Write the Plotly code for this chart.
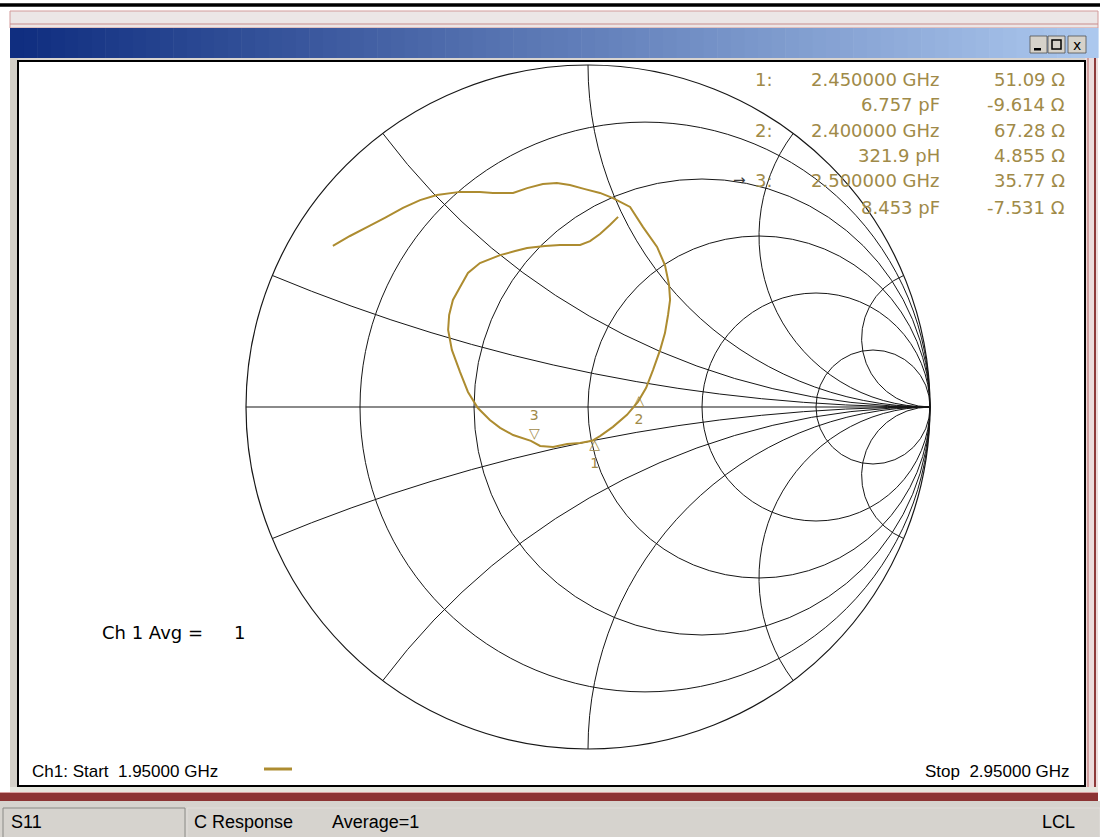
import numpy as np
import plotly.graph_objects as go

W, H = 1100, 837

# ---------------- data ----------------
# S11 reflection coefficient, sweep 1.95 GHz -> 2.95 GHz
s11_re = [-0.746, -0.696, -0.646, -0.594, -0.541, -0.491, -0.442, -0.374, -0.316, -0.278,
          -0.219, -0.178, -0.132, -0.091, -0.053, -0.009, 0.035, 0.073, 0.123, 0.161,
          0.202, 0.225, 0.237, 0.240, 0.234, 0.225, 0.211, 0.190, 0.170, 0.146,
          0.114, 0.073, 0.035, 0.012, -0.023, -0.061, -0.102, -0.140, -0.167, -0.219,
          -0.257, -0.287, -0.322, -0.351, -0.374, -0.398, -0.409, -0.406, -0.395, -0.374,
          -0.351, -0.316, -0.257, -0.213, -0.178, -0.126, -0.082, -0.023, 0.006, 0.035,
          0.064, 0.088]
s11_im = [0.471, 0.500, 0.526, 0.553, 0.582, 0.605, 0.620, 0.629, 0.629, 0.626,
          0.626, 0.640, 0.652, 0.655, 0.649, 0.637, 0.626, 0.611, 0.585, 0.526,
          0.468, 0.415, 0.357, 0.313, 0.269, 0.216, 0.167, 0.108, 0.056, 0.015,
          -0.023, -0.058, -0.085, -0.099, -0.105, -0.108, -0.117, -0.114, -0.099, -0.082,
          -0.061, -0.038, -0.003, 0.044, 0.102, 0.167, 0.225, 0.269, 0.313, 0.351,
          0.392, 0.421, 0.444, 0.456, 0.465, 0.471, 0.474, 0.474, 0.485, 0.506,
          0.532, 0.556]

marker_ids = ["1", "2", "3"]
marker_freq = ["2.450000 GHz", "2.400000 GHz", "2.500000 GHz"]
marker_elem = ["6.757 pF", "321.9 pH", "8.453 pF"]
marker_R = [51.09, 67.28, 35.77]
marker_X = [-9.614, 4.855, -7.531]
Z0 = 50.0

r_grid = [0.2, 0.5, 1, 2, 5]
x_grid = [-5, -2, -1, -0.5, -0.2, 0.2, 0.5, 1, 2, 5]

avg_text = "Ch 1 Avg ="
avg_value = "1"
start_text = "Ch1: Start  1.95000 GHz"
stop_text = "Stop  2.95000 GHz"
status_items = ["S11", "C Response", "Average=1", "LCL"]

# ---------------- styles ----------------
TRACE = "#ad8c30"
MTEXT = "#a08a48"
GRID = "#161616"
FONT = "DejaVu Sans"
NARROW = "Liberation Sans Narrow, Liberation Sans, Arial"


def px(x):
    return x / W


def py(y):
    return 1 - y / H


shapes = []
annotations = []


def rect(x0, y0, x1, y1, fill=None, line=None, lw=0, layer="below"):
    shapes.append(dict(type="rect", xref="paper", yref="paper",
                       x0=px(x0), x1=px(x1), y0=py(y1), y1=py(y0),
                       fillcolor=fill if fill else "rgba(0,0,0,0)",
                       line=dict(color=line if line else "rgba(0,0,0,0)", width=lw),
                       layer=layer))


def hline(x0, x1, y, color, lw, layer="below"):
    shapes.append(dict(type="line", xref="paper", yref="paper",
                       x0=px(x0), x1=px(x1), y0=py(y), y1=py(y),
                       line=dict(color=color, width=lw), layer=layer))


def vline(x, y0, y1, color, lw, layer="below"):
    shapes.append(dict(type="line", xref="paper", yref="paper",
                       x0=px(x), x1=px(x), y0=py(y0), y1=py(y1),
                       line=dict(color=color, width=lw), layer=layer))


def text(x, y, s, size=18, color="black", anchor="left", family=FONT):
    annotations.append(dict(x=px(x), y=py(y), xref="paper", yref="paper", text=s,
                            showarrow=False, xanchor=anchor, yanchor="middle",
                            font=dict(family=family, size=size, color=color)))


# ---------------- window frame ----------------
hline(0, W, 5, "black", 3.5)
rect(10, 11, 1098, 28, fill="#ece6e6", line="#d29a9a", lw=1)
hline(10, 1098, 24, "#c88c8c", 1)

# title bar gradient
c0 = np.array([16, 46, 128])
c1 = np.array([172, 200, 238])
n = 80
x_left, x_right = 10, 1098
for i in range(n):
    t = i / (n - 1)
    c = (c0 + (c1 - c0) * t).astype(int)
    xa = x_left + (x_right - x_left) * i / n
    xb = x_left + (x_right - x_left) * (i + 1) / n + 0.6
    rect(xa, 28, xb, 58, fill="rgb(%d,%d,%d)" % tuple(c))

# caption buttons
for (bx0, bx1) in [(1030, 1047), (1048, 1065), (1068, 1086)]:
    rect(bx0, 36, bx1, 53, fill="#d6d2ca", line="#505050", lw=0.8)
rect(1034, 48, 1041, 50.5, fill="black")
rect(1052, 40, 1061, 49, line="black", lw=1.5)
text(1077, 44.5, "x", size=14, color="black", anchor="center", family="DejaVu Sans")

rect(10, 58, 1098, 61, fill="#d8d4d0")
rect(10, 58, 18, 792, fill="#d4d0c8")
# right maroon/pink frame
rect(1085, 58, 1098, 800, fill="#ecdcdc")
vline(1088, 58, 796, "#c98c8c", 1.5)
vline(1095, 58, 800, "#8e3a3a", 2)
# plot area
rect(18, 61, 1085, 786, fill="white", line="black", lw=2)
# bottom frame
rect(10, 787, 1098, 792, fill="#e6e6de")
rect(0, 792, 1098, 801, fill="#8c3434")
hline(0, 1098, 792.5, "#d9a0a0", 1)
# status bar
rect(0, 801, W, H, fill="#d6d3ce")
rect(3, 808, 185, 838, line="#8a8a86", lw=1)
rect(187, 808, 1100, 838, line="#e9e7e4", lw=0.5)

# ---------------- texts ----------------
rows = [80, 105, 130, 156, 181, 207]
for k in range(3):
    yf = rows[2 * k]
    ye = rows[2 * k + 1]
    text(753, yf, marker_ids[k] + ":", color=MTEXT)
    text(942, yf, marker_freq[k], color=MTEXT, anchor="right")
    text(1067, yf, "%.2f Ω" % marker_R[k], color=MTEXT, anchor="right")
    text(942, ye, marker_elem[k], color=MTEXT, anchor="right")
    text(1067, ye, "%.3f Ω" % marker_X[k], color=MTEXT, anchor="right")
text(739, 180, "→", size=15, color="#3a3a3a", anchor="center")

text(100, 632, avg_text)
text(232, 632, avg_value)
text(30, 771, start_text, size=17, family=NARROW)
text(1072, 771, stop_text, size=17, family=NARROW, anchor="right")
hline(264, 292, 769, TRACE, 3)

sx = [9, 192, 330, 1040]
for s, x in zip(status_items, sx):
    text(x, 822, s, size=18, family=NARROW)

# ---------------- traces ----------------
g = np.array(s11_re) + 1j * np.array(s11_im)
z = (1 + g) / (1 - g)

fig = go.Figure()
fig.add_trace(go.Scattersmith(real=z.real, imag=z.imag, mode="lines",
                              line=dict(color=TRACE, width=2),
                              hoverinfo="skip", showlegend=False))

zm_r = np.array(marker_R) / Z0
zm_x = np.array(marker_X) / Z0
mk_text = ["△<br>1", "△<br>2", "3<br>▽"]
mk_pos = ["bottom center", "bottom center", "top center"]
for k in range(3):
    fig.add_trace(go.Scattersmith(real=[zm_r[k]], imag=[zm_x[k]], mode="text",
                                  text=[mk_text[k]], textposition=mk_pos[k],
                                  textfont=dict(family=FONT, size=14, color=MTEXT),
                                  hoverinfo="skip", showlegend=False))

axis_style = dict(showticklabels=False, ticks="", showgrid=True, gridcolor=GRID,
                  gridwidth=1.2, showline=True, linecolor=GRID, linewidth=1.2,
                  layer="below traces")

fig.update_layout(
    width=W, height=H,
    margin=dict(l=0, r=0, t=0, b=0),
    paper_bgcolor="white",
    showlegend=False,
    shapes=shapes,
    annotations=annotations,
    smith=dict(
        domain=dict(x=[246 / W, 930 / W], y=[1 - 749 / H, 1 - 65 / H]),
        bgcolor="rgba(0,0,0,0)",
        realaxis=dict(tickvals=r_grid, **axis_style),
        imaginaryaxis=dict(tickvals=x_grid, **axis_style),
    ),
)

fig.write_html("out.html",
               config={"displayModeBar": False},
               post_script="document.body.style.margin='0';"
                           "document.body.style.overflow='hidden';")
